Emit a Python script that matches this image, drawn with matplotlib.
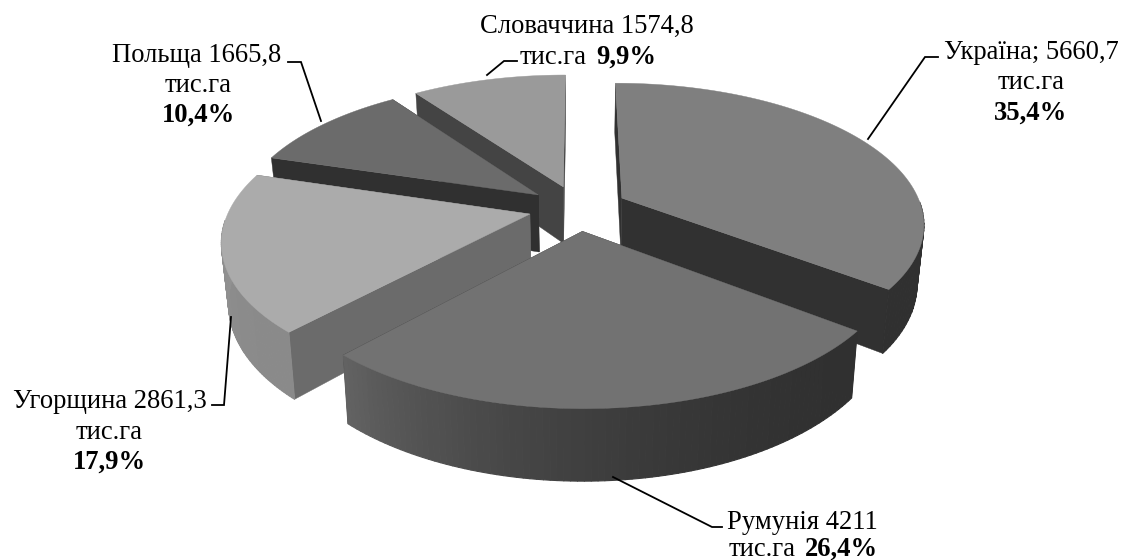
import numpy as np
import matplotlib
matplotlib.use("Agg")
import matplotlib.pyplot as plt
from matplotlib.collections import PolyCollection

plt.rcParams['font.family'] = ['Liberation Serif', 'DejaVu Serif']

# ---- data
countries = ["Україна", "Румунія", "Угорщина", "Польща", "Словаччина"]
areas = [5660.7, 4211.0, 2861.3, 1665.8, 1574.8]
area_text = ["5660,7", "4211", "2861,3", "1665,8", "1574,8"]
shares = ["35,4%", "26,4%", "17,9%", "10,4%", "9,9%"]
unit = "тис.га"

# ---- style per slice
top_colors = ["#7f7f7f", "#727272", "#ababab", "#6b6b6b", "#9a9a9a"]
radial_colors = ["#313131", "#303030", "#6b6b6b", "#303030", "#444444"]
# outer wall shade at the slice's clockwise start and end
wall_start = [0x30, 0x30, 0x8a, 0x30, 0x44]
wall_end = [0x30, 0x62, 0x9a, 0x30, 0x44]
draw_order = [4, 3, 0, 2, 1]

# ---- projection of the tilted pie
CX, CY, AX, BY = 578.0, 208.0, 300.0, 137.8
PERSP, EXPLODE, DEPTH, SHRINK = 0.172, 0.165, 58.0, 0.98


def project(u, v, lower=False):
    s = 1.0 / (1.0 + PERSP * v)
    x = AX * u * s
    y = -BY * v * s
    if lower:
        return CX + x * SHRINK, CY + y + DEPTH * s
    return CX + x, CY + y


fig = plt.figure(figsize=(11.24, 5.6), dpi=100)
ax = fig.add_axes([0, 0, 1, 1])
ax.set_xlim(0, 1124)
ax.set_ylim(560, 0)
ax.axis("off")

fractions = np.array(areas) / np.sum(areas)
edges = np.concatenate([[0.0], np.cumsum(fractions)]) * 2 * np.pi

for z, i in enumerate(draw_order):
    t0, t1 = edges[i], edges[i + 1]
    mid = (t0 + t1) / 2
    ou, ov = EXPLODE * np.sin(mid), EXPLODE * np.cos(mid)
    th = np.linspace(t0, t1, 90)
    u = ou + np.sin(th)
    v = ov + np.cos(th)
    tx, ty = project(u, v)
    bx, by = project(u, v, True)
    ax_t, ay_t = project(ou, ov)
    ax_b, ay_b = project(ou, ov, True)

    # radial walls
    for px, py, qx, qy in ((tx[0], ty[0], bx[0], by[0]), (tx[-1], ty[-1], bx[-1], by[-1])):
        ax.fill([ax_t, px, qx, ax_b], [ay_t, py, qy, ay_b],
                color=radial_colors[i], lw=0.3, zorder=z * 10 + 1)

    # outer wall (viewer-facing part only) as narrow shaded strips
    strips, shades = [], []
    for k in range(len(th) - 1):
        if np.cos(th[k]) > -0.05 and np.cos(th[k + 1]) > -0.05:
            continue
        strips.append([(tx[k], ty[k]), (tx[k + 1], ty[k + 1]),
                       (bx[k + 1], by[k + 1]), (bx[k], by[k])])
        f = (k / (len(th) - 2)) ** 2
        g = (wall_start[i] + (wall_end[i] - wall_start[i]) * f) / 255
        shades.append((g, g, g))
    if strips:
        ax.add_collection(PolyCollection(strips, facecolors=shades, edgecolors=shades,
                                         linewidths=0.8, zorder=z * 10 + 2))

    # top face
    ax.fill(np.r_[ax_t, tx], np.r_[ay_t, ty], color=top_colors[i], lw=0.3, zorder=z * 10 + 3)

# ---- labels
FS = 19.2
Z = 200


def label(x, y, s, bold=False, ha="center"):
    ax.text(x, y, s, fontsize=FS, ha=ha, va="baseline", color="black",
            fontweight="bold" if bold else "normal", zorder=Z)


def leader(xs, ys):
    ax.plot(xs, ys, color="black", lw=1.3, solid_joinstyle="miter", zorder=Z - 1)


label(1031, 59, f"{countries[0]}; {area_text[0]}")
label(1031, 89, unit)
label(1031, 120, shares[0], True)
leader([868, 925, 938], [139, 57, 57])

label(802, 529, f"{countries[1]} {area_text[1]}")
label(796, 556, unit, ha="right")
label(805, 556, shares[1], True, ha="left")
leader([613, 712, 722], [477, 527, 527])

label(110, 408, f"{countries[2]} {area_text[2]}")
label(109, 439, unit)
label(109, 469, shares[2], True)
leader([231, 224, 212], [317, 405, 405])

label(197, 62, f"{countries[3]} {area_text[3]}")
label(198, 92, unit)
label(198, 122, shares[3], True)
leader([321, 301, 288], [121, 62, 62])

label(587, 33, f"{countries[4]} {area_text[4]}")
label(587, 64, unit, ha="right")
label(596, 64, shares[4], True, ha="left")
leader([487, 504, 517], [75, 61, 61])

fig.savefig("out.png", dpi=100, facecolor="white")
